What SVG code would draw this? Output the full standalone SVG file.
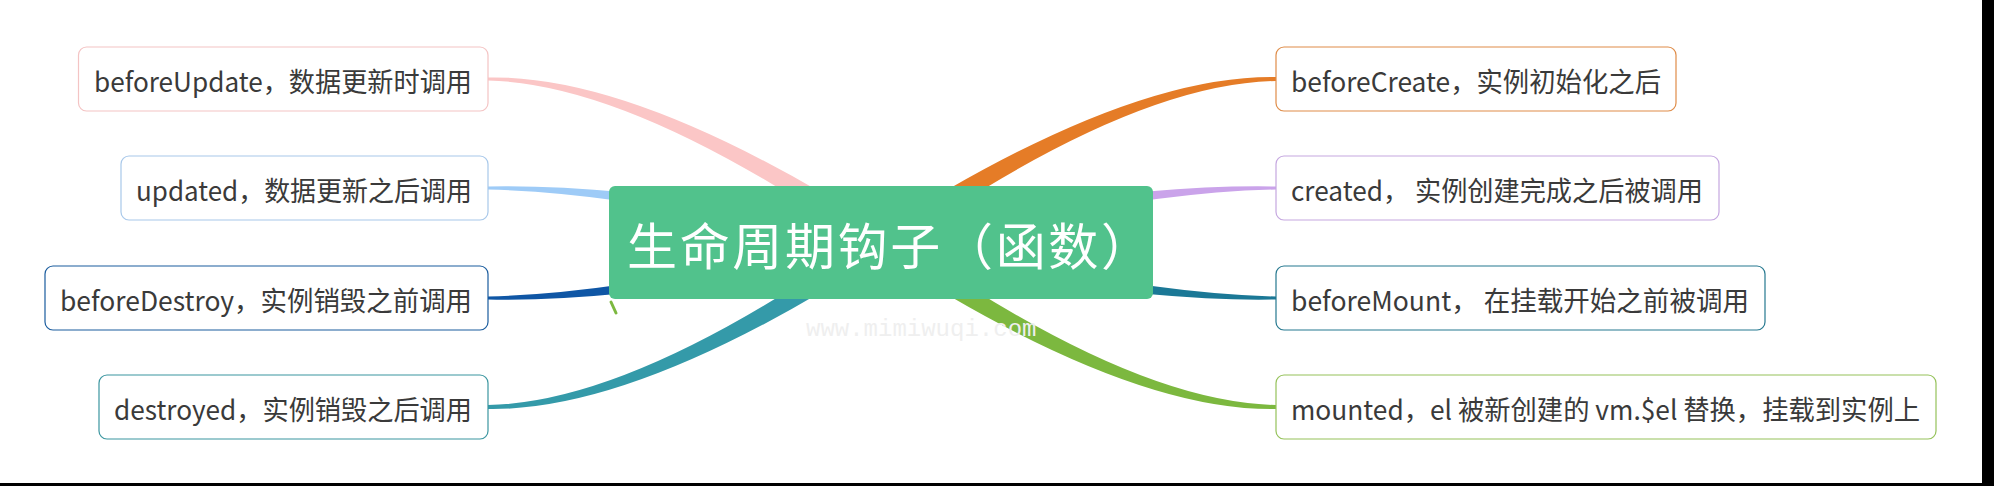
<svg xmlns="http://www.w3.org/2000/svg" width="1994" height="486" viewBox="0 0 1994 486">
<style>
.node rect{fill:#ffffff;stroke-width:1.2}
.node text{font-family:"Noto Sans CJK SC","Noto Sans",sans-serif;font-size:27px;fill:#3a3a3a;dominant-baseline:central}
.node text.l{text-anchor:end}
.node text.r{text-anchor:start}
.root text{font-family:"Noto Sans CJK SC","Noto Sans",sans-serif;font-size:50px;fill:#ffffff;text-anchor:start;dominant-baseline:central}
.wm{font-family:"Liberation Mono",monospace;font-size:24px;fill:#efefef}
</style>
<rect x="0" y="0" width="1994" height="486" fill="#ffffff"/>
<g id="connectors">
<path fill="#fbc6c6" d="M488,77.5 Q639.9,74.4 887.1,232.9 L874.9,251.1 Q636.1,83.6 488,80.5Z"/>
<path fill="#9ecbf7" d="M488,186.5 Q638.7,183.5 883.4,231.3 L878.6,252.7 Q637.3,192.5 488,189.5Z"/>
<path fill="#0f56a5" d="M488,296.5 Q637.3,293.5 878.5,231.3 L883.5,252.7 Q638.7,302.5 488,299.5Z"/>
<path fill="#349aa9" d="M488,405 Q636.1,402.4 874.8,232.9 L887.2,251.1 Q639.9,411.6 488,409Z"/>
<path fill="#e57c27" d="M1276,77 Q1124.1,74.4 876.9,232.9 L889.1,251.1 Q1127.9,83.6 1276,81Z"/>
<path fill="#caa3ea" d="M1276,186.5 Q1125.3,183.5 880.6,231.3 L885.4,252.7 Q1126.7,192.5 1276,189.5Z"/>
<path fill="#1b7896" d="M1276,296.5 Q1126.7,293.5 885.5,231.3 L880.5,252.7 Q1125.3,302.5 1276,299.5Z"/>
<path fill="#7cb83f" d="M1276,405 Q1127.9,402.4 889.2,232.9 L876.8,251.1 Q1124.1,411.6 1276,409Z"/>
<path d="M611,302 L616,313" stroke="#7cb83f" stroke-width="3" stroke-linecap="round"/>
</g>
<text class="wm" x="806" y="336">www.mimiwuqi.com</text>
<g id="root" class="root">
<rect x="609" y="186" width="544" height="113" rx="6" fill="#51c28c"/>
<text x="627" y="243" textLength="524" lengthAdjust="spacing">生命周期钩子（函数）</text>
</g>
<g id="n-beforeUpdate" class="node">
<rect x="78.5" y="47" width="409.5" height="64" rx="8" stroke="#f4c4c4"/>
<text class="l" x="472" y="80" textLength="378" lengthAdjust="spacingAndGlyphs">beforeUpdate，数据更新时调用</text>
</g>
<g id="n-updated" class="node">
<rect x="121" y="156" width="367" height="64" rx="8" stroke="#a8c8ea"/>
<text class="l" x="472" y="189" textLength="336" lengthAdjust="spacingAndGlyphs">updated，数据更新之后调用</text>
</g>
<g id="n-beforeDestroy" class="node">
<rect x="45" y="266" width="443" height="64" rx="8" stroke="#1a5c9e"/>
<text class="l" x="472" y="299" textLength="412" lengthAdjust="spacingAndGlyphs">beforeDestroy，实例销毁之前调用</text>
</g>
<g id="n-destroyed" class="node">
<rect x="99" y="375" width="389" height="64" rx="8" stroke="#3b96a0"/>
<text class="l" x="472" y="408" textLength="358" lengthAdjust="spacingAndGlyphs">destroyed，实例销毁之后调用</text>
</g>
<g id="n-beforeCreate" class="node">
<rect x="1276" y="47" width="400" height="64" rx="8" stroke="#df8c48"/>
<text class="r" x="1291" y="80" textLength="370" lengthAdjust="spacingAndGlyphs">beforeCreate，实例初始化之后</text>
</g>
<g id="n-created" class="node">
<rect x="1276" y="156" width="443" height="64" rx="8" stroke="#c5a7e0"/>
<text class="r" x="1291" y="189" textLength="412" lengthAdjust="spacingAndGlyphs">created， 实例创建完成之后被调用</text>
</g>
<g id="n-beforeMount" class="node">
<rect x="1276" y="266" width="489" height="64" rx="8" stroke="#25788f"/>
<text class="r" x="1291" y="299" textLength="458" lengthAdjust="spacingAndGlyphs">beforeMount， 在挂载开始之前被调用</text>
</g>
<g id="n-mounted" class="node">
<rect x="1276" y="375" width="660" height="64" rx="8" stroke="#95c25a"/>
<text class="r" x="1291" y="408" textLength="629" lengthAdjust="spacingAndGlyphs">mounted，el 被新创建的 vm.$el 替换，挂载到实例上</text>
</g>
<rect x="1982" y="0" width="12" height="486" fill="#000000"/>
<rect x="0" y="483" width="1994" height="3" fill="#000000"/>
</svg>
